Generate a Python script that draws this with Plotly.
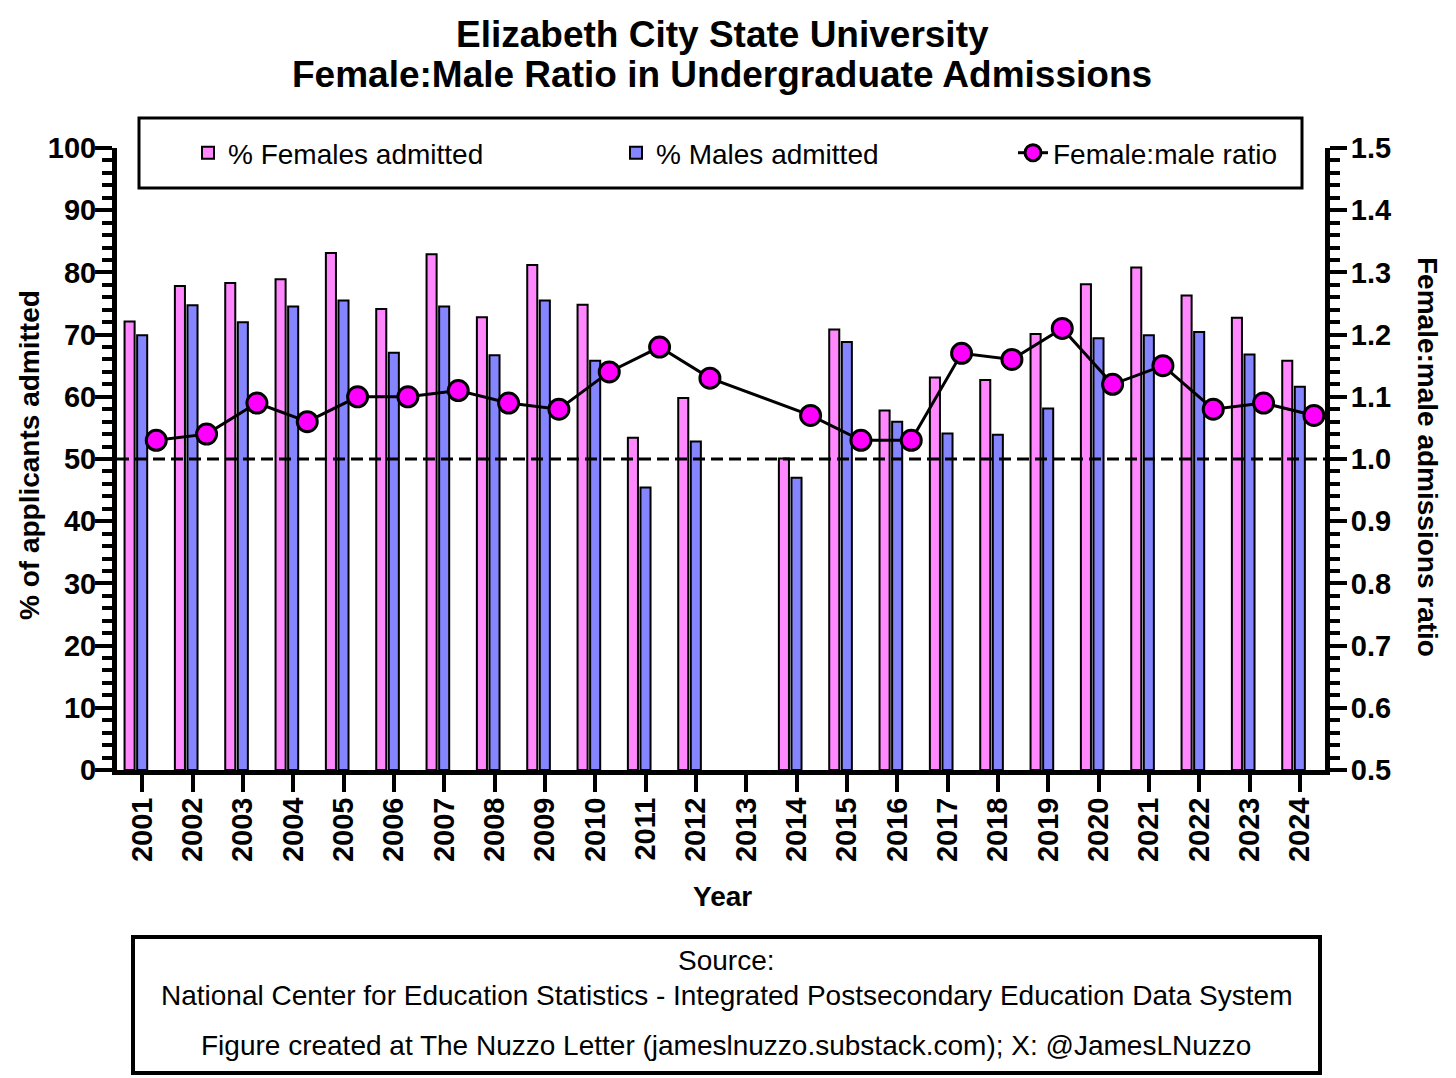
import plotly.graph_objects as go

years = list(range(2001, 2025))

# % admitted (2013 missing in source)
female_pct = [72.1, 77.8, 78.3, 78.9, 83.1, 74.1, 82.9, 72.8, 81.2, 74.8, 53.4, 59.8,
              None, 50.1, 70.8, 57.8, 63.1, 62.7, 70.1, 78.1, 80.8, 76.3, 72.7, 65.8]
male_pct = [69.9, 74.7, 72.0, 74.5, 75.5, 67.1, 74.5, 66.7, 75.5, 65.8, 45.4, 52.8,
            None, 47.0, 68.8, 56.0, 54.1, 53.9, 58.1, 69.4, 69.9, 70.4, 66.8, 61.6]
fm_ratio = [1.03, 1.04, 1.09, 1.06, 1.10, 1.10, 1.11, 1.09, 1.08, 1.14, 1.18, 1.13,
            None, 1.07, 1.03, 1.03, 1.17, 1.16, 1.21, 1.12, 1.15, 1.08, 1.09, 1.07]

left_ticks = list(range(0, 101, 10))
right_ticks = [0.5, 0.6, 0.7, 0.8, 0.9, 1.0, 1.1, 1.2, 1.3, 1.4, 1.5]

FONT = "Liberation Sans, Arial, sans-serif"
PINK = "#FF88FF"
BLUE = "#8585FF"
MAGENTA = "#FF00FF"

W, H = 1456, 1078
L, R, T, B = 117, 131, 148, 308
PW, PH = W - L - R, H - T - B


def px_x(px):
    return (px - L) / PW


def px_y(py):
    return (H - B - py) / PH


fig = go.Figure()

fig.add_trace(go.Bar(
    x=years, y=female_pct, name="% Females admitted", legend="legend",
    width=0.2, offset=-0.35,
    marker=dict(color=PINK, line=dict(color="black", width=2)),
))
fig.add_trace(go.Bar(
    x=years, y=male_pct, name="% Males admitted", legend="legend2",
    width=0.2, offset=-0.1,
    marker=dict(color=BLUE, line=dict(color="black", width=2)),
))
# ratio points sit to the right of each year's bar pair
fig.add_trace(go.Scatter(
    x=[y + 0.28 for y in years], y=fm_ratio, name="Female:male ratio", legend="legend3",
    yaxis="y2", mode="lines+markers", connectgaps=True,
    line=dict(color="black", width=3),
    marker=dict(color=MAGENTA, size=20, line=dict(color="black", width=3)),
))

axis_common = dict(
    showgrid=False, zeroline=False, showline=True, linecolor="black", linewidth=5,
    ticks="outside", tickcolor="black", tickwidth=4, ticklen=17,
    tickfont=dict(family=FONT, size=29, color="black", weight="bold"),
)

legend_common = dict(
    orientation="h", xanchor="left", yanchor="middle", y=px_y(153),
    bgcolor="rgba(0,0,0,0)", borderwidth=0,
    font=dict(family=FONT, size=28, color="black"),
)

fig.update_layout(
    width=W, height=H,
    margin=dict(l=L, r=R, t=T, b=B),
    paper_bgcolor="white", plot_bgcolor="white",
    barmode="overlay",
    font=dict(family=FONT, color="black"),
    xaxis=dict(
        axis_common, range=[2000.5, 2024.5], tickvals=years,
        ticktext=[str(y) for y in years], tickangle=-90, ticklabelstandoff=-6,
    ),
    yaxis=dict(
        axis_common, range=[0, 100], tickvals=left_ticks, ticklabelstandoff=-7,
        minor=dict(dtick=2, ticks="outside", ticklen=10, tickwidth=4, tickcolor="black"),
    ),
    yaxis2=dict(
        axis_common, range=[0.5, 1.5], tickvals=right_ticks, tickformat=".1f",
        overlaying="y", side="right", ticklabelstandoff=-2,
        minor=dict(dtick=0.02, ticks="outside", ticklen=10, tickwidth=4, tickcolor="black"),
    ),
    legend=dict(legend_common, x=px_x(188)),
    legend2=dict(legend_common, x=px_x(616)),
    legend3=dict(legend_common, x=px_x(1013)),
    showlegend=True,
)

# reference line at 50% (= ratio 1.0)
fig.add_shape(type="line", xref="paper", x0=0, x1=1, yref="y", y0=50, y1=50,
              line=dict(color="black", width=3, dash="12px,6px"))

# legend frame
fig.add_shape(type="rect", xref="paper", yref="paper",
              x0=px_x(139), x1=px_x(1302), y0=px_y(188), y1=px_y(118),
              line=dict(color="black", width=3), fillcolor="rgba(0,0,0,0)", layer="above")

# source frame
fig.add_shape(type="rect", xref="paper", yref="paper",
              x0=px_x(133), x1=px_x(1320), y0=px_y(1073), y1=px_y(937),
              line=dict(color="black", width=4), fillcolor="rgba(0,0,0,0)")

annotations = [
    dict(text="<b>Elizabeth City State University</b>", px=722, py=35, size=37, angle=0),
    dict(text="<b>Female:Male Ratio in Undergraduate Admissions</b>", px=722, py=75, size=37, angle=0),
    dict(text="<b>Year</b>", px=722, py=896, size=28, angle=0),
    dict(text="<b>% of applicants admitted</b>", px=30, py=455, size=28, angle=-90),
    dict(text="<b>Female:male admissions ratio</b>", px=1428, py=457, size=28, angle=90),
    dict(text="Source:", px=726, py=960, size=28, angle=0),
    dict(text="National Center for Education Statistics - Integrated Postsecondary Education Data System",
         px=726, py=995, size=28, angle=0),
    dict(text="Figure created at The Nuzzo Letter (jameslnuzzo.substack.com); X: @JamesLNuzzo",
         px=726, py=1045, size=28, angle=0),
]
for a in annotations:
    fig.add_annotation(
        text=a["text"], xref="paper", yref="paper", x=px_x(a["px"]), y=px_y(a["py"]),
        xanchor="center", yanchor="middle", showarrow=False, textangle=a["angle"],
        font=dict(family=FONT, size=a["size"], color="black"),
    )

fig.write_html(
    "out.html",
    config={"displayModeBar": False},
    post_script="document.body.style.margin='0';document.body.style.overflow='hidden';",
)
